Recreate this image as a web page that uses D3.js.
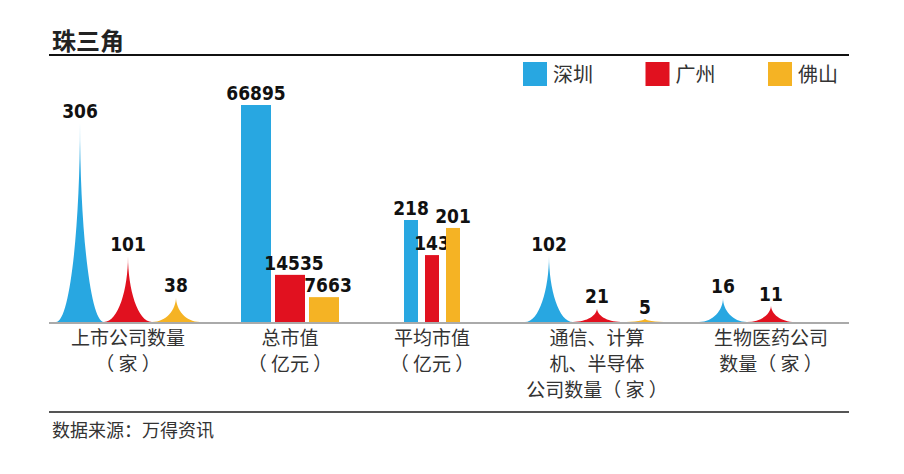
<!DOCTYPE html>
<html><head><meta charset="utf-8">
<script src="https://cdn.jsdelivr.net/npm/d3@7"></script>
<style>body{margin:0;background:#fff}</style></head>
<body><svg id="c" width="904" height="474"></svg>
<script>
const categories = [["上市公司数量","（ 家 ）"],["总市值","（ 亿元 ）"],["平均市值","（ 亿元 ）"],["通信、计算","机、半导体","公司数量（ 家 ）"],["生物医药公司","数量（ 家 ）"]];
const cities = ["深圳","广州","佛山"];
const shenzhen = [306, 66895, 218, 102, 16];
const guangzhou = [101, 14535, 143, 21, 11];
const foshan = [38, 7663, 201, 5, null];
const shapes = ["spike","bar","narrow","spike","spike"];
const maxDomain = [306, 66895, 218, 306, 20];
const colors = ["#28a7e1","#e1111f","#f5b324"];

const svg = d3.select("#c");
const base = 322;
const x = d3.scaleBand().domain(d3.range(5)).range([49,849]);
const shift = [-1, 1, -17, -12, 2];
const offs = {spike:48, bar:34, narrow:21};
const hMax = {spike:199, bar:217, narrow:102};
const numFont = "DejaVu Sans Condensed, DejaVu Sans";

svg.append("text").attr("x",52).attr("y",50).text("珠三角")
  .attr("font-family","Noto Sans CJK SC").attr("font-weight",700).attr("font-size",24).attr("fill","#222");
svg.append("line").attr("x1",49).attr("x2",849).attr("y1",55).attr("y2",55).attr("stroke","#111").attr("stroke-width",2);

const lx = d3.scalePoint().domain(cities).range([523,768]);
cities.forEach((c,i)=>{
  svg.append("rect").attr("x",lx(c)).attr("y",62).attr("width",24).attr("height",24).attr("fill",colors[i]);
  svg.append("text").attr("x",lx(c)+30).attr("y",82).text(c).attr("font-family","Noto Sans CJK SC").attr("font-size",20).attr("fill","#333");
});

const series = [shenzhen, guangzhou, foshan];
categories.forEach((cat,g)=>{
  const shape = shapes[g];
  const y = d3.scaleLinear().domain([0, maxDomain[g]]).range([0, g===4 ? 30 : hMax[shape]]);
  const cx = x(g) + x.bandwidth()/2 + shift[g];
  series.forEach((s,i)=>{
    const v = s[g]; if (v==null) return;
    const h = y(v);
    const c = cx + (i-1)*offs[shape];
    if (shape==="spike") {
      const w = 24, t = base - h;
      svg.append("path").attr("fill",colors[i])
        .attr("d",`M${c-w},${base} C${c-w*0.4},${base} ${c},${base-h*0.5} ${c},${t} C${c},${base-h*0.5} ${c+w*0.4},${base} ${c+w},${base} Z`);
    } else {
      const w = shape==="bar" ? 30 : 14;
      svg.append("rect").attr("x",c-w/2).attr("y",base-h).attr("width",w).attr("height",h).attr("fill",colors[i]);
    }
    svg.append("text").attr("x",c + (shape==="bar" && i>0 ? 4 : 0)).attr("y",base-h-5).attr("text-anchor","middle").text(v)
      .attr("font-family",numFont).attr("font-weight",700).attr("font-size",19).attr("fill","#111");
  });
  cat.forEach((line,k)=>{
    svg.append("text").attr("x",cx).attr("y",345+k*26).attr("text-anchor","middle").text(line)
      .attr("font-family","Noto Sans CJK SC").attr("font-size",19).attr("fill","#333");
  });
});

svg.append("line").attr("x1",49).attr("x2",849).attr("y1",base+1).attr("y2",base+1).attr("stroke","#aaa").attr("stroke-width",2);
svg.append("line").attr("x1",49).attr("x2",849).attr("y1",412).attr("y2",412).attr("stroke","#555").attr("stroke-width",2);
svg.append("text").attr("x",52).attr("y",437).text("数据来源：万得资讯")
  .attr("font-family","Noto Sans CJK SC").attr("font-size",18).attr("fill","#333");
</script></body></html>
